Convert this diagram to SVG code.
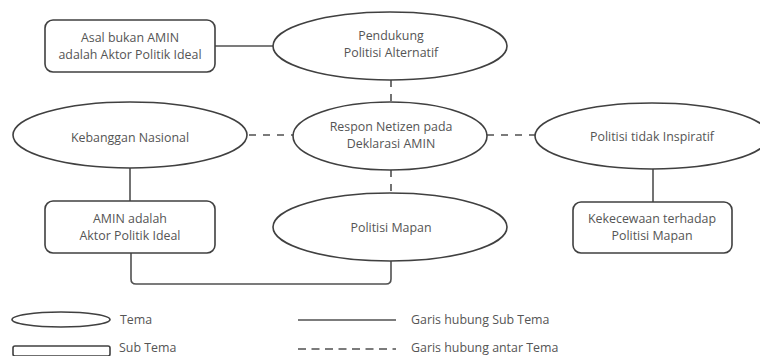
<svg xmlns="http://www.w3.org/2000/svg" width="760" height="356" viewBox="0 0 760 356">
<style>
.shape{fill:#fff;stroke:#404040;stroke-width:1.6}
.solid{fill:none;stroke:#505050;stroke-width:1.6}
.dash{fill:none;stroke:#505050;stroke-width:1.6;stroke-dasharray:7 7}
text{font-family:"Open Sans","Noto Sans","Liberation Sans",sans-serif;font-size:12.4px;fill:#555;text-anchor:middle}
.lg{text-anchor:start}
</style>
<rect width="760" height="356" fill="#fff"/>
<g id="connectors">
<line class="solid" x1="215" y1="46" x2="273" y2="46"/>
<line class="dash" x1="391" y1="80" x2="391" y2="102"/>
<line class="dash" x1="249" y1="135" x2="293" y2="135"/>
<line class="dash" x1="487" y1="135" x2="535" y2="135"/>
<line class="dash" x1="391" y1="170" x2="391" y2="193"/>
<line class="solid" x1="130" y1="168" x2="130" y2="201"/>
<line class="solid" x1="653" y1="169" x2="653" y2="202"/>
<path class="solid" d="M131 253 V279 Q131 284 136 284 H386 Q391 284 391 279 V261"/>
</g>
<g id="asal-bukan">
<rect class="shape" x="45" y="20" width="170" height="52" rx="8"/>
<text x="130" y="42">Asal bukan AMIN</text>
<text x="130" y="59">adalah Aktor Politik Ideal</text>
</g>
<g id="pendukung">
<ellipse class="shape" cx="390" cy="46" rx="117" ry="34"/>
<text x="391" y="40">Pendukung</text>
<text x="391" y="57">Politisi Alternatif</text>
</g>
<g id="kebanggan">
<ellipse class="shape" cx="130" cy="135" rx="117" ry="33"/>
<text x="130" y="142">Kebanggan Nasional</text>
</g>
<g id="respon">
<ellipse class="shape" cx="390" cy="136" rx="97" ry="34"/>
<text x="391" y="131">Respon Netizen pada</text>
<text x="391" y="148">Deklarasi AMIN</text>
</g>
<g id="tidak-inspiratif">
<ellipse class="shape" cx="652" cy="136" rx="117" ry="33"/>
<text x="652" y="141">Politisi tidak Inspiratif</text>
</g>
<g id="amin-ideal">
<rect class="shape" x="45" y="201" width="170" height="52" rx="8"/>
<text x="130" y="223">AMIN adalah</text>
<text x="130" y="240">Aktor Politik Ideal</text>
</g>
<g id="mapan">
<ellipse class="shape" cx="390" cy="227" rx="117" ry="34"/>
<text x="391" y="232">Politisi Mapan</text>
</g>
<g id="kekecewaan">
<rect class="shape" x="573" y="202" width="159" height="51" rx="8"/>
<text x="652" y="223">Kekecewaan terhadap</text>
<text x="652" y="240">Politisi Mapan</text>
</g>
<g id="legend">
<ellipse class="shape" cx="61" cy="319.5" rx="49" ry="7.5"/>
<text class="lg" x="120" y="324">Tema</text>
<rect class="shape" x="13" y="346" width="97" height="10" rx="2"/>
<text class="lg" x="119" y="352">Sub Tema</text>
<line class="solid" x1="298" y1="320" x2="396" y2="320"/>
<text class="lg" x="411" y="324">Garis hubung Sub Tema</text>
<line class="dash" x1="298" y1="349" x2="396" y2="349" style="stroke-dasharray:8 5.5"/>
<text class="lg" x="411" y="352">Garis hubung antar Tema</text>
</g>
</svg>
